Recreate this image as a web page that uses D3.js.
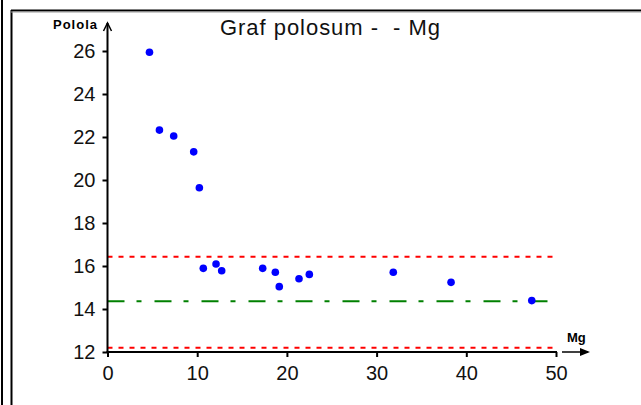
<!DOCTYPE html>
<html>
<head>
<meta charset="utf-8">
<script src="https://cdn.jsdelivr.net/npm/d3@7"></script>
<style>
  html, body { margin: 0; padding: 0; background: #fff; }
  svg { display: block; }
</style>
</head>
<body>
<div id="chart"></div>
<script>
// data
const mgValues = [4.68, 5.79, 7.38, 9.61, 10.24, 10.68, 12.1, 12.73, 17.3, 18.71, 19.15, 21.35, 22.5, 31.86, 38.3, 47.3];
const pololaValues = [25.94, 22.32, 22.05, 21.31, 19.64, 15.89, 16.09, 15.78, 15.89, 15.71, 15.04, 15.41, 15.61, 15.71, 15.24, 14.39];
const xTicks = [0, 10, 20, 30, 40, 50];
const yTicks = [12, 14, 16, 18, 20, 22, 24, 26];
const upperLimit = 16.43;
const lowerLimit = 12.2;
const centerLine = 14.36;

const W = 641, H = 405;

const drawChart = (element) => {
  d3.select(element).select("svg").remove();
  const svg = d3.select(element)
    .append("svg")
    .attr("width", W)
    .attr("height", H)
    .attr("viewBox", `0 0 ${W} ${H}`);

  // frame
  svg.append("line").attr("x1", 2).attr("x2", 2).attr("y1", 0).attr("y2", H)
    .attr("stroke", "#000").attr("stroke-width", 2);
  svg.append("line").attr("x1", 11.5).attr("x2", 11.5).attr("y1", 10).attr("y2", H)
    .attr("stroke", "#000").attr("stroke-width", 2);
  svg.append("line").attr("x1", 11).attr("x2", W).attr("y1", 10.5).attr("y2", 10.5)
    .attr("stroke", "#000").attr("stroke-width", 2);
  svg.append("line").attr("x1", 11).attr("x2", W).attr("y1", 12).attr("y2", 12)
    .attr("stroke", "#999").attr("stroke-width", 1);

  const x = d3.scaleLinear().domain([0, 50]).range([107.5, 556]);
  const y = d3.scaleLinear().domain([12, 26]).range([352, 51]);

  // limit lines
  const hline = (v, color, dash) => svg.append("line")
    .attr("x1", x(0)).attr("x2", x(50))
    .attr("y1", y(v)).attr("y2", y(v))
    .attr("stroke", color).attr("stroke-width", 2)
    .attr("stroke-dasharray", dash);
  hline(upperLimit, "#ff0000", "5,6");
  hline(lowerLimit, "#ff0000", "5,6");
  hline(centerLine, "#008000", "17,12,5,13");

  const font = "'Liberation Sans', Arial, sans-serif";

  // y axis
  const yAxis = svg.append("g")
    .attr("transform", `translate(${x(0)},0)`)
    .call(d3.axisLeft(y).tickValues(yTicks).tickSize(5).tickPadding(7).tickFormat(d3.format("d")));
  yAxis.select(".domain").remove();
  yAxis.selectAll(".tick line").attr("stroke", "#000").attr("stroke-width", 2);
  yAxis.selectAll("text").attr("font-family", font).attr("font-size", 20).attr("fill", "#111");

  // x axis
  const xAxis = svg.append("g")
    .attr("transform", `translate(0,${y(12)})`)
    .call(d3.axisBottom(x).tickValues(xTicks).tickSize(5).tickPadding(9).tickFormat(d3.format("d")));
  xAxis.select(".domain").remove();
  xAxis.selectAll(".tick line").attr("stroke", "#000").attr("stroke-width", 2);
  xAxis.selectAll("text").attr("font-family", font).attr("font-size", 20).attr("fill", "#111");

  // axis lines with arrows
  svg.append("line")
    .attr("x1", x(0)).attr("x2", x(0))
    .attr("y1", y(12) + 1).attr("y2", 23)
    .attr("stroke", "#000").attr("stroke-width", 2);
  svg.append("path")
    .attr("d", `M${x(0) - 4},31 L${x(0)},23 L${x(0) + 4},31`)
    .attr("fill", "none").attr("stroke", "#000").attr("stroke-width", 1.5);

  svg.append("line")
    .attr("x1", x(0) - 1).attr("x2", x(50) + 1)
    .attr("y1", y(12)).attr("y2", y(12))
    .attr("stroke", "#000").attr("stroke-width", 2);
  svg.append("line")
    .attr("x1", 562).attr("x2", 588)
    .attr("y1", y(12)).attr("y2", y(12))
    .attr("stroke", "#000").attr("stroke-width", 1.5);
  svg.append("path")
    .attr("d", `M580,${y(12) - 4} L590,${y(12)} L580,${y(12) + 4} Z`)
    .attr("fill", "#000");

  // axis names and title
  svg.append("text")
    .attr("x", 53).attr("y", 29)
    .attr("font-family", font).attr("font-size", 13).attr("font-weight", "bold")
    .attr("textLength", 44)
    .text("Polola");
  svg.append("text")
    .attr("x", 567).attr("y", 342)
    .attr("font-family", font).attr("font-size", 13).attr("font-weight", "bold")
    .text("Mg");
  svg.append("text")
    .attr("x", 330).attr("y", 35)
    .attr("text-anchor", "middle")
    .attr("font-family", font).attr("font-size", 22)
    .attr("fill", "#111")
    .attr("textLength", 220)
    .attr("lengthAdjust", "spacing")
    .attr("xml:space", "preserve")
    .style("white-space", "pre")
    .text("Graf polosum -  - Mg");

  // points
  svg.append("g")
    .selectAll("circle")
    .data(mgValues.map((v, i) => [v, pololaValues[i]]))
    .enter()
    .append("circle")
    .attr("cx", d => x(d[0]))
    .attr("cy", d => y(d[1]))
    .attr("r", 3.8)
    .attr("fill", "#0000ff");
};

drawChart(document.getElementById("chart"));
</script>
</body>
</html>
